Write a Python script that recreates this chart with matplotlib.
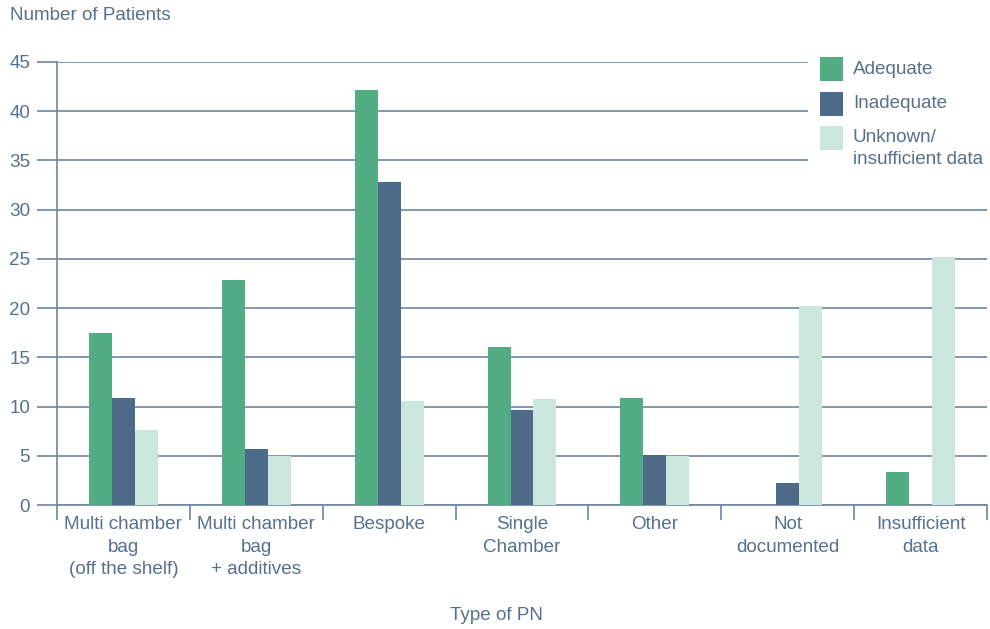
import matplotlib
matplotlib.use("Agg")
import matplotlib.pyplot as plt
import numpy as np
from matplotlib.patches import Rectangle

plt.rcParams['font.family'] = ['Liberation Sans', 'DejaVu Sans']

categories = [
    "Multi chamber\nbag\n(off the shelf)",
    "Multi chamber\nbag\n+ additives",
    "Bespoke",
    "Single\nChamber",
    "Other",
    "Not\ndocumented",
    "Insufficient\ndata",
]
adequate = [17.5, 22.9, 42.2, 16.1, 10.9, 0, 3.4]
inadequate = [10.9, 5.7, 32.8, 9.6, 5.1, 2.2, 0]
unknown = [7.6, 5.0, 10.6, 10.8, 5.0, 20.2, 25.2]
series_names = ["Adequate", "Inadequate", "Unknown/\ninsufficient data"]
yticks = [0, 5, 10, 15, 20, 25, 30, 35, 40, 45]

text_col = "#56708f"
grid_col = "#6e86a0"
colors = ["#52ad84", "#4e6a89", "#cbe6dc"]
fs = 13.6

W, H = 990, 629
fig = plt.figure(figsize=(W / 100, H / 100), dpi=100)
ax = fig.add_axes([57 / W, 1 - 505 / H, 930 / W, 443 / H])

x = np.arange(len(categories))
w = 0.173
for i, vals in enumerate([adequate, inadequate, unknown]):
    ax.bar(x + (i - 1) * w, vals, width=w, color=colors[i], zorder=3, linewidth=0)

ax.set_xlim(-0.5, len(categories) - 0.5)
ax.set_ylim(0, 45)
ax.set_yticks(yticks)
ax.yaxis.grid(True, color=grid_col, linewidth=1.2, zorder=1)
ax.set_axisbelow(True)

for s in ["top", "right"]:
    ax.spines[s].set_visible(False)
for s in ["left", "bottom"]:
    ax.spines[s].set_color(grid_col)
    ax.spines[s].set_linewidth(1.2)

ax.tick_params(axis="y", length=14.4, width=1.2, color=grid_col, labelcolor=text_col,
               labelsize=fs, pad=5)
ax.set_xticks(x)
ax.set_xticklabels(categories, linespacing=1.42)
ax.set_xticks(np.arange(-0.5, len(categories)), minor=True)
ax.tick_params(axis="x", which="major", length=0, labelcolor=text_col, labelsize=fs, pad=8)
ax.tick_params(axis="x", which="minor", length=11, width=1.2, color=grid_col)

fig.text(10 / W, 1 - 16 / H, "Number of Patients", color=text_col, fontsize=fs,
         ha="left", va="center")
fig.text(496 / W, 1 - 615 / H, "Type of PN", color=text_col, fontsize=fs,
         ha="center", va="center")

# Legend block with a white backing over the gridlines
fig.add_artist(Rectangle((808 / W, 1 - 176 / H), 182 / W, 128 / H,
                         transform=fig.transFigure, facecolor="white",
                         edgecolor="none", zorder=2))
sq_tops = [57, 92, 126]
for c, name, top in zip(colors, series_names, sq_tops):
    fig.add_artist(Rectangle((820 / W, 1 - (top + 24) / H), 23 / W, 24 / H,
                             transform=fig.transFigure, facecolor=c,
                             edgecolor="none", zorder=3))
    fig.text(853 / W, 1 - (top + 12) / H, name.split("\n")[0], color=text_col,
             fontsize=fs, ha="left", va="center", zorder=4)
    if "\n" in name:
        fig.text(853 / W, 1 - (top + 34) / H, name.split("\n")[1], color=text_col,
                 fontsize=fs, ha="left", va="center", zorder=4)

fig.savefig("out.png", dpi=100)
